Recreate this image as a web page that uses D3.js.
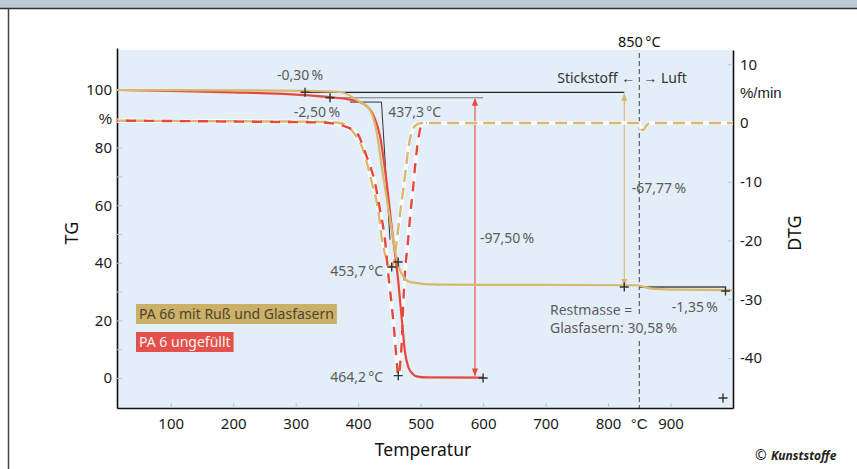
<!DOCTYPE html>
<meta charset="utf-8">
<style>
body { margin: 0; background: #fff; font-family: "Noto Sans", sans-serif; }
.tick text { font-size: 15px; fill: #1a1a1a; font-family: "Noto Sans", sans-serif; }
.tick line { stroke: #a9c8e6; }
.note { font-size: 14px; fill: #5b5b5b; }
</style>
<body>
<script src="https://cdn.jsdelivr.net/npm/d3@7"></script>
<script>

var width = 857,
    height = 469;

var tempTicks = [100, 200, 300, 400, 500, 600, 700, 800, 900];
var tgTicks = [0, 20, 40, 60, 80, 100];
var dtgTicks = [-40, -30, -20, -10, 0, 10];

// TG, [temperature °C, mass %]
var pa66TG = [[14, 100], [200, 99.9], [315, 99.7], [371, 99.3], [398, 96.5], [419, 93], [430, 85],
  [438, 73], [446, 62], [454, 51], [460, 43], [466, 38], [473, 35], [483, 33.3], [530, 32.4],
  [700, 32.3], [845, 32.2], [855, 31.8], [870, 31], [900, 30.7], [1000, 30.5]];
var pa6TG = [[14, 100], [100, 99.7], [200, 99.2], [300, 98.4], [355, 97.5], [390, 96.5], [410, 95],
  [425, 91], [435, 84], [445, 69], [455, 50], [464, 34], [470, 20], [475, 9], [480, 4],
  [487, 1.5], [495, 0.5], [510, 0.2], [600, 0.1]];

// DTG, [temperature °C, %/min]
var pa66DTG = [[14, 0.4], [200, 0.3], [340, 0.2], [370, 0], [385, -0.7], [395, -2], [408, -4.6],
  [422, -10.2], [432, -14.8], [438, -19.8], [445, -23], [453.7, -24.5], [459, -22.5], [464, -18],
  [470, -13], [475, -9], [480, -4.6], [487, -1.2], [495, -0.2], [504, 0], [850, 0], [853, -1],
  [857, -1.2], [862, -0.3], [868, 0], [1000, 0]];
var pa6DTG = [[14, 0.4], [150, 0.3], [250, 0.2], [340, 0.1], [370, -0.3], [382, -0.7], [398, -1.7],
  [414, -5.8], [427, -10.2], [435, -14.8], [443, -19.9], [448, -25.5], [454, -31.3], [459, -37],
  [462, -41], [464.2, -43], [466, -42.5], [468, -40], [470, -37], [472, -31.3], [475, -25.5],
  [480, -19.9], [484, -15], [488, -11], [491, -7.5], [496, -2.9], [502, -0.3], [510, 0]];

var tan = "#d8b86e",
    red = "#e8473c",
    plotBg = "#e3eef8";

var svg = d3.select("body").append("svg")
    .attr("width", width)
    .attr("height", height);

// frame of the page
svg.append("rect").attr("x", 0).attr("y", 0).attr("width", width).attr("height", 8).attr("fill", "#bccbd6");
svg.append("line").attr("x1", 0).attr("x2", width).attr("y1", 8.5).attr("y2", 8.5).attr("stroke", "#333").attr("stroke-width", 1.5);
svg.append("line").attr("x1", 8.5).attr("x2", 8.5).attr("y1", 8).attr("y2", height).attr("stroke", "#444").attr("stroke-width", 1.5);

var x = d3.scaleLinear().domain([14, 1000]).range([117, 733]);
var yTG = d3.scaleLinear().domain([-10.42, 114.58]).range([408, 48]);
var yDTG = d3.scaleLinear().domain([-48.51, 12.43]).range([408, 50]);

svg.append("rect")
    .attr("x", x(14)).attr("y", yDTG(12.43))
    .attr("width", x(1000) - x(14)).attr("height", 408 - yDTG(12.43))
    .attr("fill", plotBg);

// axes
var gLeft = svg.append("g").attr("transform", "translate(" + x(14) + ",0)")
    .call(d3.axisLeft(yTG).tickValues(d3.range(0, 101, 10)).tickSizeInner(-5).tickSizeOuter(0).tickPadding(5)
      .tickFormat(function(d) { return tgTicks.indexOf(d) >= 0 ? d : ""; }));
gLeft.select(".domain").attr("stroke", "#111").attr("stroke-width", 1.6);
gLeft.append("text").attr("x", -5).attr("y", yTG(90)).attr("dy", "0.32em")
    .attr("text-anchor", "end").attr("fill", "#1a1a1a").style("font-size", "15px").text("%");

var gRight = svg.append("g").attr("transform", "translate(" + x(1000) + ",0)")
    .call(d3.axisRight(yDTG).tickValues(d3.range(-40, 11, 10)).tickSizeInner(-5).tickSizeOuter(0).tickPadding(7)
      .tickFormat(function(d) { return dtgTicks.indexOf(d) >= 0 ? d : ""; }));
gRight.select(".domain").attr("stroke", "#111").attr("stroke-width", 1.6);
gRight.append("text").attr("x", 7).attr("y", yDTG(5)).attr("dy", "0.32em")
    .attr("text-anchor", "start").attr("fill", "#1a1a1a").style("font-size", "15px").text("%/min");

var gBottom = svg.append("g").attr("transform", "translate(0,408)")
    .call(d3.axisBottom(x).tickValues(tempTicks).tickSizeInner(-5).tickSizeOuter(0).tickPadding(10));
gBottom.select(".domain").attr("stroke", "#111").attr("stroke-width", 1.6);
gBottom.append("text").attr("x", x(850)).attr("y", 10).attr("dy", "0.71em")
    .attr("text-anchor", "middle").attr("fill", "#1a1a1a").style("font-size", "15px").text("°C");

svg.append("text").attr("transform", "translate(78,233) rotate(-90)")
    .attr("text-anchor", "middle").style("font-size", "18px").attr("fill", "#111").text("TG");
svg.append("text").attr("transform", "translate(801,233) rotate(-90)")
    .attr("text-anchor", "middle").style("font-size", "18px").attr("fill", "#111").text("DTG");
svg.append("text").attr("x", 423).attr("y", 456)
    .attr("text-anchor", "middle").style("font-size", "17.5px").attr("fill", "#111").text("Temperatur");

// 850 °C switch nitrogen -> air
svg.append("line").attr("x1", x(850)).attr("x2", x(850)).attr("y1", 53).attr("y2", 408)
    .attr("stroke", "#444").attr("stroke-width", 1).attr("stroke-dasharray", "5,3");
svg.append("text").attr("x", x(850)).attr("y", 47).attr("text-anchor", "middle")
    .style("font-size", "14.5px").attr("fill", "#111").text("850\u202f°C");
svg.append("text").attr("x", x(850) - 4).attr("y", 83).attr("text-anchor", "end")
    .style("font-size", "14px").attr("fill", "#333").text("Stickstoff ←");
svg.append("text").attr("x", x(850) + 4).attr("y", 83).attr("text-anchor", "start")
    .style("font-size", "14px").attr("fill", "#333").text("→ Luft");

// reference lines for the steps
var steps = [
  {t1: 315, t2: 826, v: 99.2, c: "#222", w: 1.3},
  {t1: 355, t2: 600, v: 97.3, c: "#7a7a7a", w: 1},
  {t1: 387, t2: 437.3, v: 95.8, c: "#333", w: 1},
  {t1: 850, t2: 988, v: 31.6, c: "#444", w: 1.3}
];
svg.selectAll(".step").data(steps).enter().append("line")
    .attr("x1", function(d) { return x(d.t1); }).attr("x2", function(d) { return x(d.t2); })
    .attr("y1", function(d) { return yTG(d.v); }).attr("y2", function(d) { return yTG(d.v); })
    .attr("stroke", function(d) { return d.c; }).attr("stroke-width", function(d) { return d.w; });
svg.append("line").attr("x1", x(437.3)).attr("y1", yTG(95.8)).attr("x2", x(451)).attr("y2", yTG(48))
    .attr("stroke", "#333").attr("stroke-width", 1);

var defs = svg.append("defs");
[["red", red], ["tan", tan]].forEach(function(m) {
  defs.append("marker").attr("id", "arr-" + m[0]).attr("viewBox", "0 0 10 10")
      .attr("refX", 9).attr("refY", 5).attr("markerWidth", 7).attr("markerHeight", 9)
      .attr("orient", "auto-start-reverse")
    .append("path").attr("d", "M0,1L10,5L0,9Z").attr("fill", m[1]);
});
svg.append("line").attr("x1", x(587)).attr("x2", x(587)).attr("y1", yTG(96.9)).attr("y2", yTG(0.9))
    .attr("stroke", red).attr("stroke-width", 1.1)
    .attr("marker-start", "url(#arr-red)").attr("marker-end", "url(#arr-red)");
svg.append("line").attr("x1", x(826)).attr("x2", x(826)).attr("y1", yTG(98.6)).attr("y2", yTG(32))
    .attr("stroke", tan).attr("stroke-width", 1.1)
    .attr("marker-start", "url(#arr-tan)").attr("marker-end", "url(#arr-tan)");

// curves
var lineTG = d3.line().x(function(d) { return x(d[0]); }).y(function(d) { return yTG(d[1]); }).curve(d3.curveMonotoneX);
var lineDTG = d3.line().x(function(d) { return x(d[0]); }).y(function(d) { return yDTG(d[1]); }).curve(d3.curveMonotoneX);

[pa66DTG, pa6DTG].forEach(function(s) {
  svg.append("path").attr("d", lineDTG(s)).attr("fill", "none")
      .attr("stroke", "#fbfdff").attr("stroke-width", 4).attr("stroke-opacity", 0.9);
});
svg.append("path").attr("d", lineDTG(pa66DTG)).attr("fill", "none")
    .attr("stroke", tan).attr("stroke-width", 2.4).attr("stroke-dasharray", "12,6");
svg.append("path").attr("d", lineDTG(pa6DTG)).attr("fill", "none")
    .attr("stroke", red).attr("stroke-width", 2.4).attr("stroke-dasharray", "10,8").attr("stroke-dashoffset", 9);

svg.append("path").attr("d", lineTG(pa6TG)).attr("fill", "none")
    .attr("stroke", red).attr("stroke-width", 2.2);
svg.append("path").attr("d", lineTG(pa66TG)).attr("fill", "none")
    .attr("stroke", tan).attr("stroke-width", 2.2);

// crosses
var crossesTG = [[315, 99.2], [355, 97.3], [464, 40.3], [600, 0], [826, 31.6], [988, 30.2]];
var crossesDTG = [[453.7, -24.5], [464.2, -43], [984, -46.8]];
var cross = "M-4.5,0H4.5M0,-4.5V4.5";
svg.selectAll(".ctg").data(crossesTG).enter().append("path")
    .attr("d", cross).attr("stroke", "#333").attr("stroke-width", 1.4)
    .attr("transform", function(d) { return "translate(" + x(d[0]) + "," + yTG(d[1]) + ")"; });
svg.selectAll(".cdtg").data(crossesDTG).enter().append("path")
    .attr("d", cross).attr("stroke", "#333").attr("stroke-width", 1.4)
    .attr("transform", function(d) { return "translate(" + x(d[0]) + "," + yDTG(d[1]) + ")"; });

// annotation texts, placed in TG units
var notes = [
  {t: 307, v: 105.2, a: "middle", s: "-0,30\u202f%"},
  {t: 334, v: 92.4, a: "middle", s: "-2,50\u202f%"},
  {t: 448, v: 92.4, a: "start", s: "437,3\u202f°C"},
  {t: 595, v: 48.6, a: "start", s: "-97,50\u202f%"},
  {t: 838, v: 66, a: "start", s: "-67,77\u202f%"},
  {t: 440, v: 37.2, a: "end", s: "453,7\u202f°C"},
  {t: 440, v: 0.3, a: "end", s: "464,2\u202f°C"},
  {t: 707, v: 23.6, a: "start", s: "Restmasse ="},
  {t: 707, v: 17.4, a: "start", s: "Glasfasern: 30,58\u202f%", bg: true},
  {t: 976, v: 24.7, a: "end", s: "-1,35\u202f%"}
];
var noteText = svg.selectAll(".note").data(notes).enter().append("text")
    .attr("class", "note")
    .attr("x", function(d) { return x(d.t); })
    .attr("y", function(d) { return yTG(d.v); })
    .attr("dy", "0.35em")
    .attr("text-anchor", function(d) { return d.a; })
    .text(function(d) { return d.s; });
noteText.filter(function(d) { return d.bg; }).each(function() {
  var b = this.getBBox();
  svg.insert("rect", function() { return this; }.bind(this))
      .attr("x", b.x).attr("y", b.y - 3).attr("width", b.width).attr("height", b.height + 6)
      .attr("fill", plotBg);
});

// legend
var legend = [
  {label: "PA 66 mit Ruß und Glasfasern", fill: "#cbb067", text: "#4d4330"},
  {label: "PA 6 ungefüllt", fill: "#e2514b", text: "#fff2f0"}
];
var lg = svg.selectAll(".lg").data(legend).enter().append("g")
    .attr("transform", function(d, i) { return "translate(136," + (314 + i * 28) + ")"; });
lg.append("text").attr("x", 3).attr("dy", "0.35em").style("font-size", "14px")
    .attr("fill", function(d) { return d.text; }).text(function(d) { return d.label; })
  .each(function(d) { d.w = this.getComputedTextLength(); });
lg.insert("rect", "text").attr("x", 0).attr("y", -10).attr("height", 20)
    .attr("width", function(d) { return d.w + 6; }).attr("fill", function(d) { return d.fill; });

// credit
svg.append("text").attr("x", 755).attr("y", 460).style("font-size", "14px").attr("fill", "#222").text("©");
svg.append("text").attr("x", 771).attr("y", 460).style("font-size", "12px").style("font-weight", "bold")
    .style("font-style", "italic").attr("fill", "#222").text("Kunststoffe");

</script>
